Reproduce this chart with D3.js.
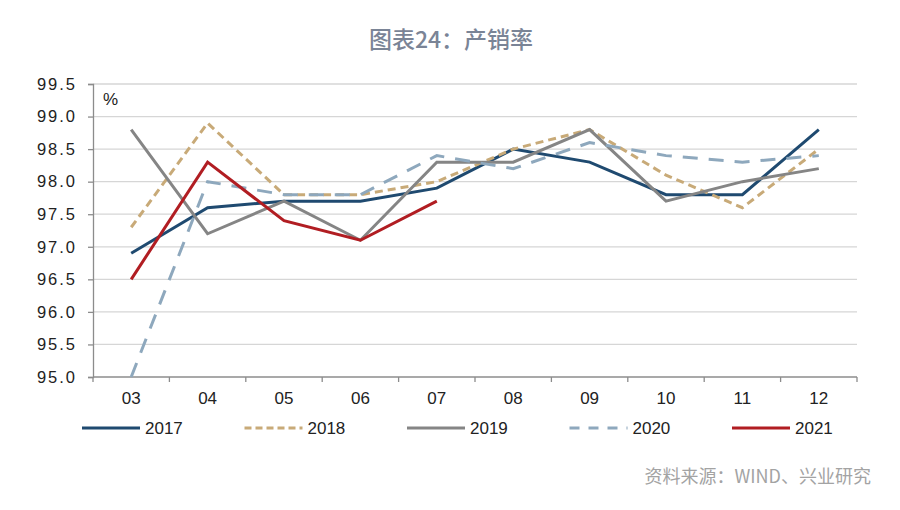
<!DOCTYPE html>
<html>
<head>
<meta charset="utf-8">
<script src="https://cdn.jsdelivr.net/npm/d3@7"></script>
<style>
  body { margin: 0; background: #fff; }
  svg text { font-family: "Liberation Sans", Arial, sans-serif; }
</style>
</head>
<body>
<div id="chart"></div>
<script>
// data
const months = ["03", "04", "05", "06", "07", "08", "09", "10", "11", "12"];
const yTicks = [95.0, 95.5, 96.0, 96.5, 97.0, 97.5, 98.0, 98.5, 99.0, 99.5];
const v2017 = [96.9, 97.6, 97.7, 97.7, 97.9, 98.5, 98.3, 97.8, 97.8, 98.8];
const v2018 = [97.3, 98.9, 97.8, 97.8, 98.0, 98.5, 98.8, 98.1, 97.6, 98.5];
const v2019 = [98.8, 97.2, 97.7, 97.1, 98.3, 98.3, 98.8, 97.7, 98.0, 98.2];
const v2020 = [95.0, 98.0, 97.8, 97.8, 98.4, 98.2, 98.6, 98.4, 98.3, 98.4];
const v2021 = [96.5, 98.3, 97.4, 97.1, 97.7];

const series = [
    {name: "2017", values: v2017, color: "#1f4a70", dash: null},
    {name: "2018", values: v2018, color: "#c8aa78", dash: "8,5"},
    {name: "2019", values: v2019, color: "#858585", dash: null},
    {name: "2020", values: v2020, color: "#8ea8bd", dash: "15,11"},
    {name: "2021", values: v2021, color: "#b11d22", dash: null}
];

const W = 900, H = 510;
const margin = {top: 84, right: 43, bottom: 133, left: 93};
const width = W - margin.left - margin.right;
const height = H - margin.top - margin.bottom;

const svg = d3.select("#chart")
    .append("svg")
    .attr("width", W)
    .attr("height", H);

const g = svg.append("g")
    .attr("transform", `translate(${margin.left}, ${margin.top})`);

const xScale = d3.scaleBand()
    .domain(months)
    .range([0, width]);

const yScale = d3.scaleLinear()
    .domain([95, 99.5])
    .range([height, 0]);

// gridlines
g.selectAll(".grid")
    .data(yTicks.filter(d => d > 95))
    .enter()
    .append("line")
    .attr("x1", 0)
    .attr("x2", width)
    .attr("y1", d => yScale(d))
    .attr("y2", d => yScale(d))
    .attr("stroke", "#d6d6d6")
    .attr("stroke-width", 1.3);

// y axis
const yAxis = d3.axisLeft(yScale)
    .tickValues(yTicks)
    .tickSize(5)
    .tickPadding(11)
    .tickFormat(d3.format(".1f"));

const gy = g.append("g").call(yAxis);
gy.select(".domain").attr("stroke", "#8c8c8c").attr("stroke-width", 1.3);
gy.selectAll(".tick line").attr("stroke", "#8c8c8c").attr("stroke-width", 1.3);
gy.selectAll(".tick text")
    .attr("font-size", 16.5)
    .attr("letter-spacing", 2)
    .attr("fill", "#222");

// x axis, ticks between categories
const gx = g.append("g")
    .attr("transform", `translate(0, ${height})`);
gx.append("line")
    .attr("x1", 0).attr("x2", width)
    .attr("stroke", "#8c8c8c").attr("stroke-width", 1.5);
gx.selectAll(".xtick")
    .data(months.concat(["end"]))
    .enter()
    .append("line")
    .attr("x1", (d, i) => i * xScale.step())
    .attr("x2", (d, i) => i * xScale.step())
    .attr("y1", 0).attr("y2", 5)
    .attr("stroke", "#8c8c8c").attr("stroke-width", 1.3);
gx.selectAll(".xlabel")
    .data(months)
    .enter()
    .append("text")
    .attr("x", d => xScale(d) + xScale.bandwidth() / 2)
    .attr("y", 27)
    .attr("text-anchor", "middle")
    .attr("font-size", 17)
    .attr("fill", "#222")
    .text(d => d);

// unit
g.append("text")
    .attr("x", 10)
    .attr("y", 21)
    .attr("font-size", 17)
    .attr("fill", "#222")
    .text("%");

// lines
const line = d3.line()
    .x((d, i) => xScale(months[i]) + xScale.bandwidth() / 2)
    .y(d => yScale(d));

g.selectAll(".series")
    .data(series)
    .enter()
    .append("path")
    .attr("d", d => line(d.values))
    .attr("fill", "none")
    .attr("stroke", d => d.color)
    .attr("stroke-width", 3)
    .attr("stroke-dasharray", d => d.dash)
    .attr("stroke-linejoin", "miter");

// legend
const legend = svg.append("g")
    .attr("transform", "translate(82, 428)");

const item = legend.selectAll(".legend")
    .data(series)
    .enter()
    .append("g")
    .attr("transform", (d, i) => `translate(${i * 162.5}, 0)`);

item.append("line")
    .attr("x1", 0).attr("x2", 58)
    .attr("y1", 0).attr("y2", 0)
    .attr("stroke", d => d.color)
    .attr("stroke-width", 3)
    .attr("stroke-dasharray", d => d.name == "2018" ? "7,4" : (d.name == "2020" ? "10,9" : null));

item.append("text")
    .attr("x", 63)
    .attr("y", 0)
    .attr("dy", "0.35em")
    .attr("font-size", 17)
    .attr("fill", "#222")
    .text(d => d.name);

// title
svg.append("text")
    .attr("x", 451)
    .attr("y", 48)
    .attr("text-anchor", "middle")
    .style("font-family", "'Noto Sans CJK SC', sans-serif")
    .style("font-weight", 500)
    .attr("font-size", 23)
    .attr("fill", "#7a8496")
    .text("图表24：产销率");

// source
svg.append("text")
    .attr("x", 871)
    .attr("y", 483)
    .attr("text-anchor", "end")
    .style("font-family", "'Noto Sans CJK SC', sans-serif")
    .attr("font-size", 18)
    .attr("fill", "#a3a3a3")
    .text("资料来源：WIND、兴业研究");
</script>
</body>
</html>
